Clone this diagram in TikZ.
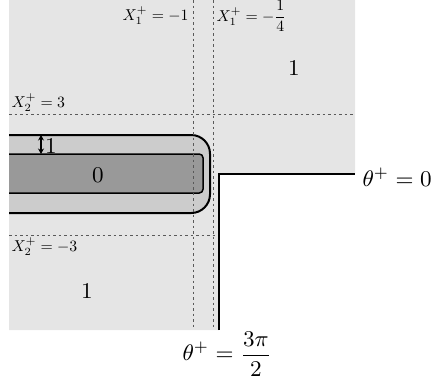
\documentclass[tikz,border=0pt]{standalone}
\usepackage{amsmath}
\usepackage{graphicx}
\usetikzlibrary{arrows.meta}
\newcommand\smlab[1]{\scalebox{0.63}{#1}}
\begin{document}
\begin{tikzpicture}[x=0.4pt,y=-0.4pt,
  bgfill/.style={fill=black!10},
  outerband/.style={draw=black,line width=0.8pt,fill=black!20,rounded corners=7.5pt},
  innerband/.style={draw=black,line width=0.6pt,fill=black!40,rounded corners=1.5pt},
  gridline/.style={black!65,line width=0.35pt,dash pattern=on 1.1pt off 1.1pt},
  wall/.style={draw=black,line width=0.8pt},
  smalllab/.style={inner sep=0pt},
  biglab/.style={font=\fontsize{9}{11}\selectfont,inner sep=0pt},
  twoarrow/.style={{Stealth[length=2.2pt,width=2.4pt]}-{Stealth[length=2.2pt,width=2.4pt]},line width=0.6pt}]
\useasboundingbox (0,0) rectangle (432,389);
% background
\fill[bgfill] (9,0) -- (355,0) -- (355,174) -- (219,174) -- (219,330) -- (9,330) -- cycle;
% bands
\draw[outerband] (9,135) -- (210,135) -- (210,213) -- (9,213);
\draw[innerband] (9,154) -- (203,154) -- (203,193) -- (9,193);
% grid
\coordinate (v1t) at (193,0); \coordinate (v1b) at (193,330);
\coordinate (v2t) at (213,0); \coordinate (v2b) at (213,330);
\coordinate (h1l) at (9,114); \coordinate (h1r) at (355,114);
\coordinate (h2l) at (9,235); \coordinate (h2r) at (219,235);
\draw[gridline] (v1t) -- (v1b);
\draw[gridline] (v2t) -- (v2b);
\draw[gridline] (h1l) -- (h1r);
\draw[gridline] (h2l) -- (h2r);
% wall
\coordinate (wb) at (219,330); \coordinate (wc) at (219,174); \coordinate (we) at (355,174);
\draw[wall] (wb) -- (wc) -- (we);
% arrow
\coordinate (at) at (41,135); \coordinate (ab) at (41,154);
\draw[twoarrow] (at) -- (ab);
% labels
\node[smalllab,anchor=base east] (lx1a) at (189,20) {\smlab{$X_1^+=-1$}};
\node[smalllab,anchor=west] (lx1b) at (216,16) {\smlab{$X_1^+=-\dfrac{1}{4}$}};
\node[smalllab,anchor=base west] (lx2a) at (11,107) {\smlab{$X_2^+=3$}};
\node[smalllab,anchor=base west] (lx2b) at (11,251) {\smlab{$X_2^+=-3$}};
\node[biglab] (one1) at (294,68) {$1$};
\node[biglab] (one2) at (87,291) {$1$};
\node[biglab] (one3) at (51,146) {$1$};
\node[biglab] (zero) at (98,175) {$0$};
\node[biglab,anchor=west] (th0) at (362,177) {$\theta^+=0$};
\node[biglab,anchor=west] (th1) at (182,354) {$\theta^+=\dfrac{3\pi}{2}$};
\end{tikzpicture}
\end{document}
